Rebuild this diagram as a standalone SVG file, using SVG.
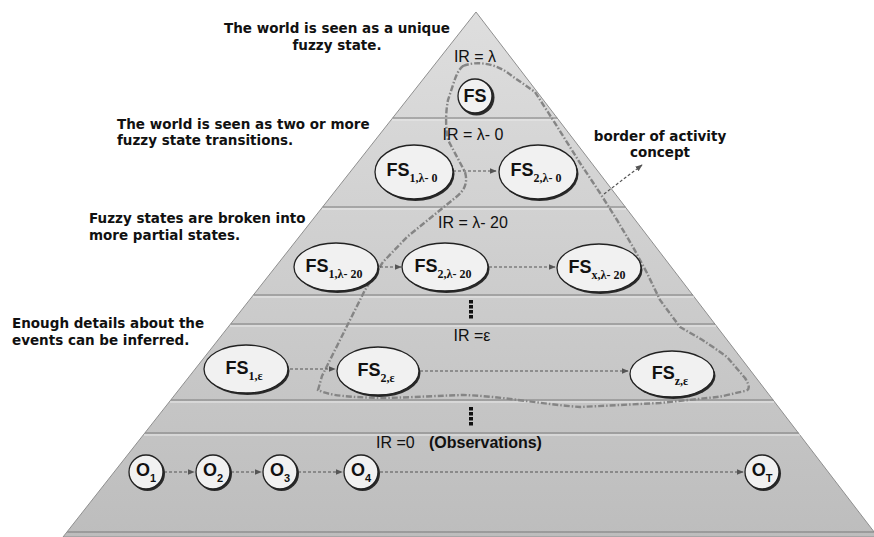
<svg xmlns="http://www.w3.org/2000/svg" width="874" height="537" viewBox="0 0 874 537">
<style>
.lbl{font-family:"DejaVu Sans",Verdana,sans-serif;font-weight:bold;font-size:13.5px;fill:#111}
.ir{font-family:"Liberation Sans",Arial,sans-serif;font-size:16px;fill:#111}
.fs{font-family:"Liberation Sans",Arial,sans-serif;font-weight:bold;font-size:18px;fill:#111}
.sub{font-family:"Liberation Serif","Times New Roman",serif;font-weight:bold;font-size:12px}
.band{stroke:#7a7a7a;stroke-width:1.2;fill:none}
.bandl{stroke:#eaeaea;stroke-width:1;fill:none}
.node{fill:#f1f1f1;stroke:#222;stroke-width:1.3}
.shadow{fill:#2a2a2a}
.conn{stroke:#555;stroke-width:1.2;stroke-dasharray:3 2;fill:none}
.border{stroke:#858585;stroke-width:2.4;stroke-dasharray:6 2 1.5 2;fill:none}
.dot{fill:#111}
</style>
<defs>
<linearGradient id="pg" x1="0" y1="0" x2="0" y2="1">
<stop offset="0" stop-color="#dedede"/>
<stop offset="1" stop-color="#bdbdbd"/>
</linearGradient>
<marker id="ah" viewBox="0 0 10 10" refX="9" refY="5" markerWidth="6" markerHeight="6" orient="auto">
<path d="M0,1 L10,5 L0,9 z" fill="#555"/>
</marker>
</defs>
<rect width="874" height="537" fill="#ffffff"/>
<g id="pyramid">
<polygon points="476,12 63,537 878,537" fill="url(#pg)" stroke="#8f8f8f" stroke-width="1"/>
<line class="band" x1="392.7" y1="118" x2="557.2" y2="118"/>
<line class="bandl" x1="392" y1="120" x2="558" y2="120"/>
<line class="band" x1="322.7" y1="207" x2="625.4" y2="207"/>
<line class="bandl" x1="322" y1="209" x2="626" y2="209"/>
<line class="band" x1="253.6" y1="295" x2="692.8" y2="295"/>
<line class="bandl" x1="253" y1="297" x2="694" y2="297"/>
<line class="band" x1="230.8" y1="324" x2="715" y2="324"/>
<line class="bandl" x1="230" y1="326" x2="716" y2="326"/>
<line class="band" x1="171" y1="400" x2="773.2" y2="400"/>
<line class="bandl" x1="170" y1="402" x2="774" y2="402"/>
<line class="band" x1="145.1" y1="433" x2="798.5" y2="433"/>
<line class="bandl" x1="144" y1="435" x2="800" y2="435"/>
<line class="band" x1="67.3" y1="532" x2="874" y2="532"/>
</g>
<g id="activity-border">
<path class="border" d="M463,66 C478,60 498,64 512,76 L535,92 L553,120 L580,163 L600,193 L617,220 L633,247 L647,273 L660,300 L680,327 C690,333 700,338 713,347 L727,357 L745,378 C750,386 750,390 745,391 C735,393 725,396 717,397 L660,403 L580,407 C540,404 500,396 463,395 C430,396 400,398 380,398 C350,397 330,396 318,390 L322,376 L345,330 L365,290 L383,262 L407,237 L455,198 C465,190 468,183 465,172 L448,140 C445,125 446,110 448,100 L453,85 C456,75 459,69 463,66 Z"/>
</g>
<g id="labels">
<text class="lbl" x="337" y="33" text-anchor="middle">The world is seen as a unique</text>
<text class="lbl" x="337" y="50" text-anchor="middle">fuzzy state.</text>
<text class="lbl" x="117" y="129">The world is seen as two or more</text>
<text class="lbl" x="117" y="145">fuzzy state transitions.</text>
<text class="lbl" x="89" y="223">Fuzzy states are broken into</text>
<text class="lbl" x="89" y="240">more partial states.</text>
<text class="lbl" x="12" y="328">Enough details about the</text>
<text class="lbl" x="12" y="345">events can be inferred.</text>
<text class="lbl" x="660" y="141" text-anchor="middle">border of activity</text>
<text class="lbl" x="660" y="157" text-anchor="middle">concept</text>
<text class="ir" x="475" y="62" text-anchor="middle">IR = λ</text>
<text class="ir" x="473" y="140" text-anchor="middle">IR = λ- 0</text>
<text class="ir" x="473" y="228" text-anchor="middle">IR = λ- 20</text>
<text class="ir" x="472" y="341" text-anchor="middle">IR =ε</text>
<text class="ir" x="376" y="448">IR =0</text>
<text class="ir" x="429" y="448" font-weight="bold" font-size="17.5">(Observations)</text>
</g>
<g id="ellipsis-dots">
<rect class="dot" x="469" y="300" width="4" height="3.5"/>
<rect class="dot" x="469" y="305" width="4" height="3.5"/>
<rect class="dot" x="469" y="310" width="4" height="3.5"/>
<rect class="dot" x="469" y="315" width="4" height="3.5"/>
<rect class="dot" x="469" y="407" width="4" height="3.5"/>
<rect class="dot" x="469" y="412" width="4" height="3.5"/>
<rect class="dot" x="469" y="417" width="4" height="3.5"/>
<rect class="dot" x="469" y="422" width="4" height="3.5"/>
</g>
<g id="connectors">
<line class="conn" x1="453" y1="171" x2="496" y2="171" marker-end="url(#ah)"/>
<line class="conn" x1="380" y1="267" x2="401" y2="267" marker-end="url(#ah)"/>
<line class="conn" x1="489" y1="267" x2="555" y2="267" marker-end="url(#ah)"/>
<line class="conn" x1="290" y1="369" x2="335" y2="369" marker-end="url(#ah)"/>
<line class="conn" x1="420" y1="371" x2="628" y2="371" marker-end="url(#ah)"/>
<line class="conn" x1="164" y1="472" x2="194" y2="472" marker-end="url(#ah)"/>
<line class="conn" x1="231" y1="472" x2="261" y2="472" marker-end="url(#ah)"/>
<line class="conn" x1="298" y1="472" x2="342" y2="472" marker-end="url(#ah)"/>
<line class="conn" x1="380" y1="472" x2="743" y2="472" marker-end="url(#ah)"/>
<line class="conn" x1="604" y1="194" x2="642" y2="165" marker-end="url(#ah)"/>
</g>
<g id="n-fs">
<circle class="shadow" cx="476.5" cy="97.5" r="18"/>
<circle class="node" cx="475" cy="96" r="17"/>
<text class="fs" x="475" y="102" text-anchor="middle" font-size="16">FS</text>
</g>
<g id="n-fs1-l0">
<ellipse class="shadow" cx="415.5" cy="174" rx="39" ry="27"/>
<ellipse class="node" cx="414" cy="172" rx="39" ry="27"/>
<text class="fs" x="412" y="176" text-anchor="middle">FS<tspan class="sub" dy="6">1,λ- 0</tspan></text>
</g>
<g id="n-fs2-l0">
<ellipse class="shadow" cx="539.5" cy="174" rx="39" ry="27"/>
<ellipse class="node" cx="538" cy="172" rx="39" ry="27"/>
<text class="fs" x="536" y="176" text-anchor="middle">FS<tspan class="sub" dy="6">2,λ- 0</tspan></text>
</g>
<g id="n-fs1-l20">
<ellipse class="shadow" cx="337.5" cy="269" rx="42" ry="24"/>
<ellipse class="node" cx="336" cy="267" rx="42" ry="24"/>
<text class="fs" x="334" y="272" text-anchor="middle">FS<tspan class="sub" dy="6">1,λ- 20</tspan></text>
</g>
<g id="n-fs2-l20">
<ellipse class="shadow" cx="446.5" cy="269" rx="43" ry="24"/>
<ellipse class="node" cx="445" cy="267" rx="43" ry="24"/>
<text class="fs" x="443" y="272" text-anchor="middle">FS<tspan class="sub" dy="6">2,λ- 20</tspan></text>
</g>
<g id="n-fsx-l20">
<ellipse class="shadow" cx="600.5" cy="270" rx="42" ry="24"/>
<ellipse class="node" cx="599" cy="268" rx="42" ry="24"/>
<text class="fs" x="597" y="273" text-anchor="middle">FS<tspan class="sub" dy="6">x,λ- 20</tspan></text>
</g>
<g id="n-fs1-e">
<ellipse class="shadow" cx="247.5" cy="371" rx="42" ry="24"/>
<ellipse class="node" cx="246" cy="369" rx="42" ry="24"/>
<text class="fs" x="244" y="374" text-anchor="middle">FS<tspan class="sub" dy="6">1,ε</tspan></text>
</g>
<g id="n-fs2-e">
<ellipse class="shadow" cx="379.5" cy="373" rx="41" ry="24"/>
<ellipse class="node" cx="378" cy="371" rx="41" ry="24"/>
<text class="fs" x="376" y="376" text-anchor="middle">FS<tspan class="sub" dy="6">2,ε</tspan></text>
</g>
<g id="n-fsz-e">
<ellipse class="shadow" cx="673.5" cy="376" rx="42" ry="23"/>
<ellipse class="node" cx="672" cy="374" rx="42" ry="23"/>
<text class="fs" x="670" y="379" text-anchor="middle">FS<tspan class="sub" dy="6">z,ε</tspan></text>
</g>
<g id="n-o1">
<circle class="shadow" cx="147.5" cy="473.5" r="17.5"/>
<circle class="node" cx="146" cy="472" r="17"/>
<text class="fs" x="146" y="476" text-anchor="middle" font-size="17">O<tspan font-size="11" dy="6">1</tspan></text>
</g>
<g id="n-o2">
<circle class="shadow" cx="214.5" cy="473.5" r="17.5"/>
<circle class="node" cx="213" cy="472" r="17"/>
<text class="fs" x="213" y="476" text-anchor="middle" font-size="17">O<tspan font-size="11" dy="6">2</tspan></text>
</g>
<g id="n-o3">
<circle class="shadow" cx="281.5" cy="473.5" r="17.5"/>
<circle class="node" cx="280" cy="472" r="17"/>
<text class="fs" x="280" y="476" text-anchor="middle" font-size="17">O<tspan font-size="11" dy="6">3</tspan></text>
</g>
<g id="n-o4">
<circle class="shadow" cx="362.5" cy="473.5" r="17.5"/>
<circle class="node" cx="361" cy="472" r="17"/>
<text class="fs" x="361" y="476" text-anchor="middle" font-size="17">O<tspan font-size="11" dy="6">4</tspan></text>
</g>
<g id="n-ot">
<circle class="shadow" cx="763.5" cy="473.5" r="17.5"/>
<circle class="node" cx="762" cy="472" r="17"/>
<text class="fs" x="762" y="476" text-anchor="middle" font-size="17">O<tspan font-size="11" dy="6">T</tspan></text>
</g>
</svg>
